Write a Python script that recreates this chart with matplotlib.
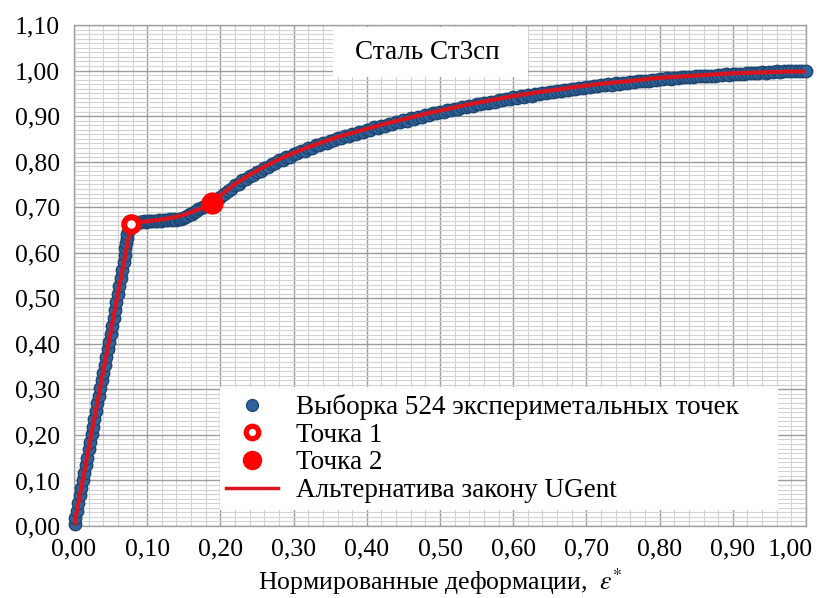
import matplotlib
matplotlib.use("Agg")
import matplotlib.pyplot as plt
from matplotlib.lines import Line2D
from matplotlib.patches import Rectangle
from matplotlib.ticker import MultipleLocator, FuncFormatter
from matplotlib.transforms import ScaledTranslation

plt.rcParams["font.family"] = ["Liberation Serif", "DejaVu Serif"]
plt.rcParams["mathtext.fontset"] = "stix"

# Experimental sample: normalized strain and normalized stress
exp_eps = [
    0.001, 0.002, 0.004, 0.006, 0.008, 0.010, 0.012, 0.014, 0.016, 0.018,
    0.020, 0.022, 0.024, 0.026, 0.028, 0.030, 0.032, 0.034, 0.036, 0.038,
    0.040, 0.042, 0.044, 0.046, 0.048, 0.050, 0.052, 0.054, 0.056, 0.058,
    0.060, 0.062, 0.064, 0.066, 0.068, 0.069, 0.070, 0.071, 0.072, 0.073,
    0.075, 0.076, 0.078,
    0.080, 0.083, 0.086, 0.089, 0.092, 0.095, 0.098, 0.101, 0.104, 0.107,
    0.110, 0.113, 0.116, 0.119, 0.122, 0.125, 0.128, 0.131, 0.134, 0.137,
    0.140, 0.143, 0.146, 0.149, 0.152, 0.155, 0.158, 0.161, 0.164, 0.167,
    0.170, 0.173, 0.176, 0.179, 0.182, 0.185, 0.188,
    0.190, 0.195, 0.200, 0.205, 0.210, 0.215, 0.220, 0.225, 0.230, 0.235,
    0.240, 0.245, 0.250, 0.255, 0.260, 0.265, 0.270, 0.275, 0.280, 0.285,
    0.290, 0.295, 0.300, 0.305, 0.310, 0.315, 0.320, 0.325, 0.330, 0.335,
    0.340, 0.345, 0.350, 0.355, 0.360, 0.365, 0.370, 0.375, 0.380, 0.385,
    0.390, 0.395, 0.400, 0.405, 0.410, 0.415, 0.420, 0.425, 0.430, 0.435,
    0.440, 0.445, 0.450, 0.455, 0.460, 0.465, 0.470, 0.475, 0.480, 0.485,
    0.490, 0.495, 0.500, 0.505, 0.510, 0.515, 0.520, 0.525, 0.530, 0.535,
    0.540, 0.545, 0.550, 0.555, 0.560, 0.565, 0.570, 0.575, 0.580, 0.585,
    0.590, 0.595, 0.600, 0.605, 0.610, 0.615, 0.620, 0.625, 0.630, 0.635,
    0.640, 0.645, 0.650, 0.655, 0.660, 0.665, 0.670, 0.675, 0.680, 0.685,
    0.690, 0.695, 0.700, 0.705, 0.710, 0.715, 0.720, 0.725, 0.730, 0.735,
    0.740, 0.745, 0.750, 0.755, 0.760, 0.765, 0.770, 0.775, 0.780, 0.785,
    0.790, 0.795, 0.800, 0.805, 0.810, 0.815, 0.820, 0.825, 0.830, 0.835,
    0.840, 0.845, 0.850, 0.855, 0.860, 0.865, 0.870, 0.875, 0.880, 0.885,
    0.890, 0.895, 0.900, 0.905, 0.910, 0.915, 0.920, 0.925, 0.930, 0.935,
    0.940, 0.945, 0.950, 0.955, 0.960, 0.965, 0.970, 0.975, 0.980, 0.985,
    0.990, 0.995, 1.000,
]
exp_sig = [
    0.004, 0.018, 0.034, 0.050, 0.067, 0.083, 0.100, 0.117, 0.133, 0.150,
    0.168, 0.184, 0.201, 0.218, 0.236, 0.252, 0.269, 0.286, 0.303, 0.320,
    0.337, 0.354, 0.371, 0.388, 0.405, 0.421, 0.439, 0.456, 0.474, 0.491,
    0.509, 0.526, 0.544, 0.561, 0.579, 0.595, 0.610, 0.622, 0.633, 0.642,
    0.650, 0.657, 0.662,
    0.665, 0.667, 0.666, 0.668, 0.667, 0.669, 0.668, 0.669, 0.669, 0.670,
    0.669, 0.670, 0.671, 0.670, 0.671, 0.672, 0.672, 0.673, 0.672, 0.673,
    0.672, 0.673, 0.675, 0.677, 0.679, 0.681, 0.684, 0.686, 0.689, 0.692,
    0.695, 0.698, 0.700, 0.703, 0.705, 0.707, 0.709,
    0.711, 0.716, 0.722, 0.728, 0.735, 0.740, 0.748, 0.751, 0.759, 0.761,
    0.768, 0.771, 0.778, 0.780, 0.787, 0.789, 0.795, 0.796, 0.803, 0.804,
    0.810, 0.811, 0.817, 0.818, 0.823, 0.824, 0.830, 0.830, 0.836, 0.836,
    0.841, 0.841, 0.846, 0.847, 0.852, 0.852, 0.857, 0.857, 0.861, 0.861,
    0.866, 0.865, 0.870, 0.869, 0.875, 0.874, 0.879, 0.878, 0.883, 0.882,
    0.887, 0.886, 0.891, 0.890, 0.895, 0.894, 0.899, 0.898, 0.902, 0.902,
    0.906, 0.906, 0.909, 0.909, 0.913, 0.913, 0.916, 0.916, 0.920, 0.919,
    0.923, 0.922, 0.926, 0.926, 0.929, 0.929, 0.932, 0.932, 0.935, 0.935,
    0.938, 0.938, 0.941, 0.940, 0.944, 0.943, 0.946, 0.945, 0.949, 0.948,
    0.951, 0.950, 0.953, 0.952, 0.955, 0.955, 0.958, 0.958, 0.960, 0.960,
    0.962, 0.962, 0.964, 0.964, 0.966, 0.966, 0.968, 0.968, 0.970, 0.969,
    0.972, 0.971, 0.973, 0.972, 0.975, 0.974, 0.977, 0.976, 0.978, 0.978,
    0.980, 0.980, 0.982, 0.981, 0.983, 0.982, 0.984, 0.983, 0.985, 0.985,
    0.986, 0.986, 0.987, 0.987, 0.988, 0.988, 0.989, 0.989, 0.991, 0.990,
    0.992, 0.991, 0.993, 0.992, 0.993, 0.993, 0.994, 0.994, 0.995, 0.995,
    0.996, 0.995, 0.997, 0.996, 0.998, 0.997, 0.999, 0.998, 0.999, 0.999,
    1.000, 0.999, 1.000,
]

# Fitted curve ("alternative to the UGent law")
fit_eps = [0.000, 0.078, 0.095, 0.115, 0.135, 0.150, 0.165, 0.178, 0.188,
           0.200, 0.220, 0.240, 0.260, 0.280, 0.300, 0.320, 0.340, 0.360,
           0.380, 0.400, 0.420, 0.440, 0.460, 0.480, 0.500, 0.520, 0.540,
           0.560, 0.580, 0.600, 0.620, 0.640, 0.660, 0.680, 0.700, 0.720,
           0.740, 0.760, 0.780, 0.800, 0.820, 0.840, 0.860, 0.880, 0.900,
           0.920, 0.940, 0.960, 0.980, 1.000]
fit_sig = [0.000, 0.663, 0.668, 0.672, 0.677, 0.683, 0.692, 0.700, 0.709,
           0.726, 0.751, 0.771, 0.789, 0.805, 0.819, 0.832, 0.843, 0.854,
           0.863, 0.872, 0.881, 0.889, 0.897, 0.905, 0.912, 0.919, 0.926,
           0.932, 0.938, 0.944, 0.949, 0.954, 0.958, 0.963, 0.967, 0.971,
           0.974, 0.977, 0.981, 0.984, 0.986, 0.988, 0.990, 0.992, 0.994,
           0.995, 0.996, 0.997, 0.998, 0.998]

# Characteristic points
point1 = (0.078, 0.663)
point2 = (0.188, 0.709)

title = "Сталь Ст3сп"
legend_labels = ["Выборка 524 экспериметальных точек", "Точка 1", "Точка 2",
                 "Альтернатива закону UGent"]
xlabel = "Нормированные деформации,  $\\varepsilon^{*}$"

blue_face = "#2F639A"
blue_edge = "#1E4670"
red = "#FF0000"
fit_red = "#D8141E"

fig = plt.figure(figsize=(8.25, 5.98), dpi=100)
ax = fig.add_axes([0.0897, 0.1204, 0.8873, 0.8378])


def comma_fmt(v):
    return f"{v:.2f}".replace(".", ",")


ax.set_xlim(0, 1.0)
ax.set_ylim(0, 1.10)
ax.xaxis.set_major_locator(MultipleLocator(0.1))
ax.xaxis.set_minor_locator(MultipleLocator(0.02))
ax.yaxis.set_major_locator(MultipleLocator(0.1))
ax.yaxis.set_minor_locator(MultipleLocator(0.01))
# the label at the right end is drawn separately, nudged inside the figure
ax.xaxis.set_major_formatter(
    FuncFormatter(lambda v, p: "" if v > 0.995 else comma_fmt(v)))
ax.yaxis.set_major_formatter(FuncFormatter(lambda v, p: comma_fmt(v)))
ax.grid(which="major", color="#9C9C9C", linewidth=1.0)
ax.grid(which="minor", color="#D2D2D2", linewidth=0.8)
ax.set_axisbelow(True)
ax.tick_params(which="both", length=0)
ax.tick_params(axis="x", pad=9, labelsize=18.5)
ax.tick_params(axis="y", pad=10, labelsize=18.5)
for s in ax.spines.values():
    s.set_color("#A0A0A0")
    s.set_linewidth(1.0)

x_end = ax.get_xlim()[1]
ax.text(x_end, 0, comma_fmt(x_end), fontsize=18.5, ha="center", va="top",
        transform=ax.get_xaxis_transform()
        + ScaledTranslation(-16 / 100, -9 / 72, fig.dpi_scale_trans))

ax.scatter(exp_eps, exp_sig, s=80, color=blue_face, edgecolors=blue_edge,
           linewidths=1.0, zorder=3, clip_on=False)
ax.plot(fit_eps, fit_sig, color=fit_red, linewidth=3.0, zorder=4,
        solid_capstyle="round")
ax.plot([point1[0]], [point1[1]], "o", markersize=10.5, markerfacecolor="white",
        markeredgecolor=red, markeredgewidth=4.3, zorder=5)
ax.plot([point2[0]], [point2[1]], "o", markersize=15, color=red, zorder=5)

# Title box
ax.add_patch(Rectangle((0.354, 0.896), 0.266, 0.100, transform=ax.transAxes,
                       facecolor="white", edgecolor="none", zorder=2))
ax.text(0.483, 0.946, title, transform=ax.transAxes, ha="center", va="center",
        fontsize=19.5, zorder=6)

handles = [
    Line2D([], [], linestyle="none", marker="o", markersize=8.5,
           markerfacecolor=blue_face, markeredgecolor=blue_edge),
    Line2D([], [], linestyle="none", marker="o", markersize=9,
           markerfacecolor="white", markeredgecolor=red, markeredgewidth=3.8),
    Line2D([], [], linestyle="none", marker="o", markersize=13, color=red),
    Line2D([], [], color=fit_red, linewidth=2.5),
]
leg = ax.legend(handles, legend_labels, loc="lower left",
                bbox_to_anchor=(0.199, 0.032, 0.763, 0.243), mode="expand",
                fontsize=19.5, frameon=True, fancybox=False, framealpha=1,
                edgecolor="white", borderpad=0.25, labelspacing=0.1,
                handlelength=1.9, handletextpad=0.65, borderaxespad=0)
leg.get_frame().set_linewidth(0)
leg.set_zorder(6)

ax.set_xlabel(xlabel, fontsize=18.5, labelpad=4)

fig.savefig("out.png", dpi=100)
